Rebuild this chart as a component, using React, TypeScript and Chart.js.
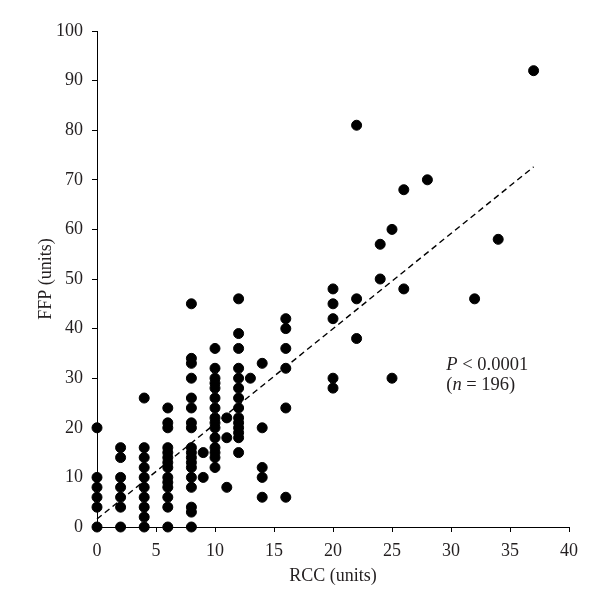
import React, { useEffect, useRef } from "react";
import { Chart, registerables } from "chart.js";

Chart.register(...registerables);

const rccColumns = [0, 2, 4, 6, 8, 9, 10, 11, 12, 13, 14, 16, 20, 22, 24, 25, 26, 28, 32, 34, 37];
const ffpColumns = [
  [0, 4, 6, 8, 10, 20],
  [0, 4, 6, 8, 10, 14, 16],
  [0, 2, 4, 6, 8, 10, 12, 14, 16, 26],
  [0, 4, 6, 8, 9, 10, 12, 13, 14, 15, 16, 20, 21, 24],
  [0, 3, 4, 8, 10, 12, 13, 14, 15, 16, 20, 21, 24, 26, 30, 33, 34, 45],
  [10, 15],
  [12, 14, 15, 16, 18, 20, 21, 22, 24, 26, 28, 29, 30, 32, 36],
  [8, 18, 22],
  [15, 18, 19, 20, 21, 22, 24, 26, 28, 30, 32, 36, 39, 46],
  [30],
  [6, 10, 12, 20, 33],
  [6, 24, 32, 36, 40, 42],
  [28, 30, 42, 45, 48],
  [38, 46, 81],
  [50, 57],
  [30, 60],
  [48, 68],
  [70],
  [46],
  [58],
  [92],
];
const trendX = [0, 37];
const trendY = [1.6, 72.6];
const xTicks = [0, 5, 10, 15, 20, 25, 30, 35, 40];
const yTicks = [0, 10, 20, 30, 40, 50, 60, 70, 80, 90, 100];
const xTitle = "RCC (units)";
const yTitle = "FFP (units)";
const statLines = [
  [["P", true], [" < 0.0001", false]],
  [["(", false], ["n", true], [" = 196)", false]],
];

const FONT = "'Liberation Serif', 'DejaVu Serif', serif";
const TEXT = "#231f20";

export default function App() {
  const ref = useRef<HTMLCanvasElement | null>(null);
  useEffect(() => {
    if (!ref.current) return;
    const points: { x: number; y: number }[] = [];
    rccColumns.forEach((x, i) => ffpColumns[i].forEach((y) => points.push({ x, y })));
    const trend = trendX.map((x, i) => ({ x, y: trendY[i] }));

    const annot = {
      id: "statText",
      afterDatasetsDraw(chart: any) {
        const ctx = chart.ctx;
        const xs = chart.scales.x;
        const ys = chart.scales.y;
        const left = xs.getPixelForValue(29.6);
        const baseY = [ys.getPixelForValue(31.6), ys.getPixelForValue(27.7)];
        ctx.save();
        ctx.fillStyle = TEXT;
        ctx.textBaseline = "alphabetic";
        ctx.textAlign = "left";
        statLines.forEach((line: any, li: number) => {
          let x = left;
          line.forEach(([t, it]: [string, boolean]) => {
            ctx.font = `${it ? "italic " : ""}18.5px ${FONT}`;
            ctx.fillText(t, x, baseY[li]);
            x += ctx.measureText(t).width;
          });
        });
        ctx.restore();
      },
    };

    const chart = new Chart(ref.current, {
      type: "scatter",
      data: {
        datasets: [
          {
            type: "line",
            data: trend,
            borderColor: "#000",
            borderWidth: 1.4,
            borderDash: [6, 4],
            pointRadius: 0,
            fill: false,
            clip: false,
            order: 2,
          } as any,
          {
            data: points,
            backgroundColor: "#000",
            borderColor: "#000",
            pointRadius: 5,
            pointHoverRadius: 5,
            clip: false,
            order: 1,
          } as any,
        ],
      },
      options: {
        animation: false,
        responsive: false,
        maintainAspectRatio: false,
        layout: { padding: { top: 31, right: 31, bottom: 17, left: 31 } },
        plugins: { legend: { display: false }, tooltip: { enabled: false } },
        scales: {
          x: {
            type: "linear",
            min: 0,
            max: 40,
            afterBuildTicks: (s: any) => {
              s.ticks = xTicks.map((v) => ({ value: v }));
            },
            afterFit: (s: any) => {
              s.height = 64;
            },
            border: { display: true, color: "#000", width: 1 },
            grid: { display: true, drawOnChartArea: false, drawTicks: true, tickLength: 5, color: "#000" },
            ticks: { color: TEXT, font: { family: FONT, size: 18 }, padding: 8, maxRotation: 0 },
            title: { display: true, text: xTitle, color: TEXT, font: { family: FONT, size: 18 }, padding: { top: 4, bottom: 4 } },
          },
          y: {
            type: "linear",
            min: 0,
            max: 100,
            afterBuildTicks: (s: any) => {
              s.ticks = yTicks.map((v) => ({ value: v }));
            },
            afterFit: (s: any) => {
              s.width = 66;
            },
            border: { display: true, color: "#000", width: 1 },
            grid: { display: true, drawOnChartArea: false, drawTicks: true, tickLength: 5, color: "#000" },
            ticks: { color: TEXT, font: { family: FONT, size: 18 }, padding: 9 },
            title: { display: true, text: yTitle, color: TEXT, font: { family: FONT, size: 18 }, padding: { top: 4, bottom: 4 } },
          },
        },
      },
      plugins: [annot],
    });
    return () => chart.destroy();
  }, []);

  return (
    <div style={{ position: "fixed", left: 0, top: 0, width: 600, height: 608, background: "#fff" }}>
      <canvas ref={ref} width={600} height={608} style={{ width: 600, height: 608 }} />
    </div>
  );
}
